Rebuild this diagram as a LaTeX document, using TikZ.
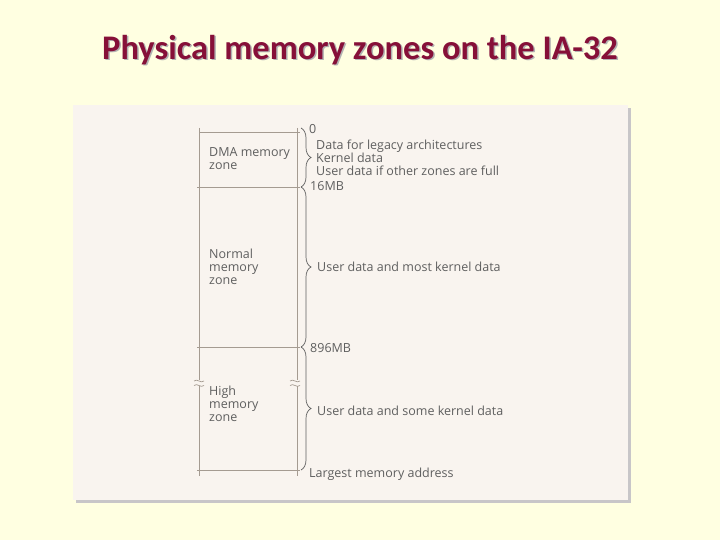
\documentclass[tikz,border=0pt]{standalone}
\usepackage{fontspec}
\setmainfont{Open Sans}
\newfontfamily\titlefont{Carlito}
\usetikzlibrary{decorations.pathreplacing}
\definecolor{bgyellow}{RGB}{255,255,225}
\definecolor{panel}{RGB}{249,244,239}
\definecolor{shadowc}{RGB}{200,198,200}
\definecolor{titlec}{RGB}{134,16,56}
\definecolor{linec}{RGB}{165,155,145}
\definecolor{txtc}{RGB}{95,95,95}
\tikzset{
  lbl/.style={anchor=west, inner sep=0pt, text=txtc, font=\fontsize{12.5}{13}\selectfont, align=left},
  zonelbl/.style={anchor=north west, inner sep=0pt, text=txtc, font=\fontsize{12.5}{13}\selectfont, align=left},
  mline/.style={draw=linec, line width=0.8pt},
  bracec/.style={draw=txtc, line width=0.7pt, decorate, decoration={brace, amplitude=10pt}},
}
\begin{document}
\begin{tikzpicture}[x=1pt,y=-1pt]
\useasboundingbox (0,0) rectangle (720,540);
\fill[bgyellow] (0,0) rectangle (720,540);
% panel with shadow
\fill[shadowc] (76,108) rectangle (631,503);
\fill[panel] (73,105) rectangle (628,500);
% title
\node[text=gray!60, font=\titlefont\bfseries\fontsize{34.5}{36}\selectfont] at (361.5,51.5) {Physical memory zones on the IA-32};
\node (title) [text=titlec, font=\titlefont\bfseries\fontsize{34.5}{36}\selectfont] at (360,50) {Physical memory zones on the IA-32};
% coordinates
\coordinate (tl) at (199,128);
\coordinate (bl) at (199,476);
\coordinate (tr) at (297,128);
\coordinate (br) at (297,476);
\coordinate (l0) at (199,132); \coordinate (r0) at (300,132);
\coordinate (l1) at (197,187); \coordinate (r1) at (300,187);
\coordinate (l2) at (197,347); \coordinate (r2) at (300,347);
\coordinate (l3) at (197,470); \coordinate (r3) at (300,470);
% box lines
\draw[mline] (tl) -- (bl);
\draw[mline] (tr) -- (br);
\draw[mline] (l0) -- (r0);
\draw[mline] (l1) -- (r1);
\draw[mline] (l2) -- (r2);
\draw[mline] (l3) -- (r3);
% break marks
\foreach \xx/\nm in {199/bkl, 295/bkr}{
  \fill[panel] (\xx-3,380) rectangle (\xx+3,386);
  \draw[draw=linec, line width=0.7pt] (\xx-5,381) .. controls (\xx-2,378) and (\xx+2,384) .. (\xx+5,381);
  \draw[draw=linec, line width=0.7pt] (\xx-5,385.5) .. controls (\xx-2,382.5) and (\xx+2,388.5) .. (\xx+5,385.5);
}
% braces
\coordinate (b0) at (301,128);
\coordinate (b1) at (301,187);
\coordinate (b2) at (301,347);
\coordinate (b3) at (301,470);
\draw[bracec] (b0) -- (b1);
\draw[bracec] (b1) -- (b2);
\draw[bracec] (b2) -- (b3);
% address labels
\node (a0) [lbl] at (309,129) {0};
\node (a1) [lbl] at (310,186) {16MB};
\node (a2) [lbl] at (310,348) {896MB};
\node (a3) [lbl] at (309,474) {Largest memory address};
% descriptions
\node (d1) [lbl] at (316,158) {Data for legacy architectures\\Kernel data\\User data if other zones are full};
\node (d2) [lbl] at (317,267) {User data and most kernel data};
\node (d3) [lbl] at (317,411) {User data and some kernel data};
% zone labels
\node (z1) [zonelbl] at (209,147) {DMA memory\\zone};
\node (z2) [zonelbl] at (209,249) {Normal\\memory\\zone};
\node (z3) [zonelbl] at (209,386) {High\\memory\\zone};
\end{tikzpicture}
\end{document}
